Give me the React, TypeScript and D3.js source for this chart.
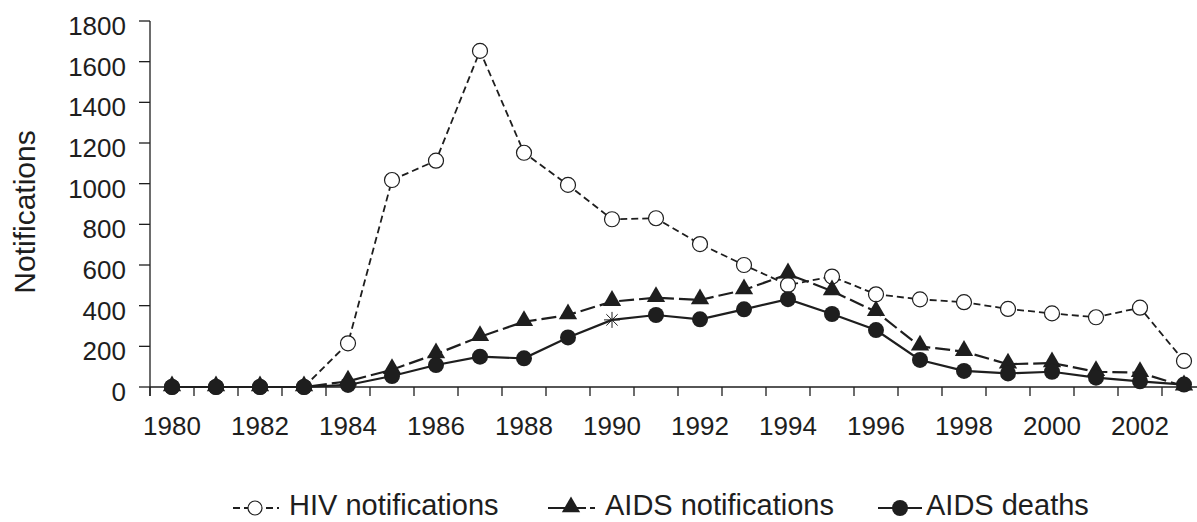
import React, { useEffect, useRef } from 'react';
import * as d3 from 'd3';

const years = d3.range(1980, 2004);
const hivNotifications = [0, 0, 0, 0, 215, 1018, 1113, 1653, 1152, 994, 825, 830, 703, 600, 502, 543, 456, 431, 417, 384, 362, 343, 390, 128];
const aidsNotifications = [0, 0, 0, 0, 28, 85, 162, 247, 321, 354, 420, 439, 428, 477, 555, 472, 370, 200, 174, 112, 118, 75, 70, 4];
const aidsDeaths = [0, 0, 0, 0, 10, 54, 108, 149, 141, 244, 330, 354, 333, 382, 432, 359, 280, 133, 79, 67, 75, 46, 28, 12];
const yTicks = [0, 200, 400, 600, 800, 1000, 1200, 1400, 1600, 1800];
const legendLabels = ['HIV notifications', 'AIDS notifications', 'AIDS deaths'];

const W = 1197;
const H = 522;
const ink = '#1e1e1e';
const font = 'Liberation Sans, Arial, Helvetica, sans-serif';

const App = () => {
  const ref = useRef<SVGSVGElement>(null);

  useEffect(() => {
    const svg = d3.select(ref.current);
    svg.selectAll('*').remove();

    const left = 150;
    const band = 44;
    const x = d3.scaleBand<number>().domain(years).range([left, left + band * years.length]).padding(0);
    const y = d3.scaleLinear().domain([0, 1800]).range([387, 21]);
    const cx = (yr: number) => (x(yr) || 0) + x.bandwidth() / 2;

    // y axis
    const gy = svg.append('g');
    gy.append('line').attr('x1', left).attr('x2', left).attr('y1', y(1800)).attr('y2', y(0) + 9)
      .attr('stroke', ink).attr('stroke-width', 1.3);
    yTicks.forEach((t) => {
      gy.append('line').attr('x1', left - 11).attr('x2', left).attr('y1', y(t)).attr('y2', y(t))
        .attr('stroke', ink).attr('stroke-width', 1.3);
      gy.append('text').attr('x', 126).attr('y', y(t) + 14).attr('text-anchor', 'end')
        .attr('font-family', font).attr('font-size', 26).attr('fill', ink).text(t);
    });

    // x axis
    const gx = svg.append('g');
    gx.append('line').attr('x1', left).attr('x2', W).attr('y1', y(0)).attr('y2', y(0))
      .attr('stroke', ink).attr('stroke-width', 1.3);
    years.forEach((yr) => {
      const bx = x(yr) || 0;
      gx.append('line').attr('x1', bx).attr('x2', bx).attr('y1', y(0)).attr('y2', y(0) + 9)
        .attr('stroke', ink).attr('stroke-width', 1.3);
      if (yr % 2 === 0) {
        gx.append('text').attr('x', cx(yr)).attr('y', 435).attr('text-anchor', 'middle')
          .attr('font-family', font).attr('font-size', 26).attr('fill', ink).text(yr);
      }
    });

    svg.append('text').attr('transform', 'translate(35,212) rotate(-90)').attr('text-anchor', 'middle')
      .attr('font-family', font).attr('font-size', 30).attr('fill', ink).text('Notifications');

    const line = d3.line<number>().x((_, i) => cx(years[i])).y((d) => y(d));
    const tri = d3.symbol().type(d3.symbolTriangle).size(145);

    // HIV notifications
    svg.append('path').attr('d', line(hivNotifications)).attr('fill', 'none').attr('stroke', ink)
      .attr('stroke-width', 1.8).attr('stroke-dasharray', '7,4');
    svg.append('g').selectAll('circle').data(hivNotifications).enter().append('circle')
      .attr('cx', (_, i) => cx(years[i])).attr('cy', (d) => y(d)).attr('r', 7.5)
      .attr('fill', '#fff').attr('stroke', ink).attr('stroke-width', 1.2);

    // AIDS notifications
    svg.append('path').attr('d', line(aidsNotifications)).attr('fill', 'none').attr('stroke', ink)
      .attr('stroke-width', 2.2).attr('stroke-dasharray', '15,5');
    svg.append('g').selectAll('path').data(aidsNotifications).enter().append('path')
      .attr('d', tri).attr('transform', (d, i) => `translate(${cx(years[i])},${y(d) - 1})`).attr('fill', ink);

    // AIDS deaths
    svg.append('path').attr('d', line(aidsDeaths)).attr('fill', 'none').attr('stroke', ink)
      .attr('stroke-width', 2.2);
    svg.append('g').selectAll('g').data(aidsDeaths).enter().append('g')
      .attr('transform', (d, i) => `translate(${cx(years[i])},${y(d)})`)
      .each(function (d, i) {
        const g = d3.select(this);
        if (years[i] === 1990) {
          [0, 45, 90, 135].forEach((a) => {
            const r = (a * Math.PI) / 180;
            g.append('line').attr('x1', -8 * Math.cos(r)).attr('y1', -8 * Math.sin(r))
              .attr('x2', 8 * Math.cos(r)).attr('y2', 8 * Math.sin(r))
              .attr('stroke', ink).attr('stroke-width', 1);
          });
        } else {
          g.append('circle').attr('r', 8).attr('fill', ink);
        }
      });

    // legend (kept just inside the bottom edge)
    const ly = 508;
    const ty = 515;
    const lg = svg.append('g');
    lg.append('line').attr('x1', 232).attr('x2', 279).attr('y1', ly).attr('y2', ly)
      .attr('stroke', ink).attr('stroke-width', 1.8).attr('stroke-dasharray', '7,4').attr('stroke-dashoffset', -1);
    lg.append('circle').attr('cx', 255).attr('cy', ly).attr('r', 7).attr('fill', '#fff')
      .attr('stroke', ink).attr('stroke-width', 1.2);
    lg.append('text').attr('x', 289).attr('y', ty).attr('font-family', font).attr('font-size', 29)
      .attr('fill', ink).text(legendLabels[0]);

    lg.append('line').attr('x1', 548).attr('x2', 595).attr('y1', ly).attr('y2', ly)
      .attr('stroke', ink).attr('stroke-width', 2.2).attr('stroke-dasharray', '17,4');
    lg.append('path').attr('d', tri).attr('transform', `translate(571,${ly - 1})`).attr('fill', ink);
    lg.append('text').attr('x', 605).attr('y', ty).attr('font-family', font).attr('font-size', 29)
      .attr('fill', ink).text(legendLabels[1]);

    lg.append('line').attr('x1', 878).attr('x2', 922).attr('y1', ly).attr('y2', ly)
      .attr('stroke', ink).attr('stroke-width', 2.2);
    lg.append('circle').attr('cx', 900).attr('cy', ly).attr('r', 8).attr('fill', ink);
    lg.append('text').attr('x', 926).attr('y', ty).attr('font-family', font).attr('font-size', 29)
      .attr('fill', ink).text(legendLabels[2]);
  }, []);

  return (
    <svg ref={ref} width={W} height={H} style={{ position: 'absolute', left: 0, top: 0, background: '#fff' }} />
  );
};

export default App;
